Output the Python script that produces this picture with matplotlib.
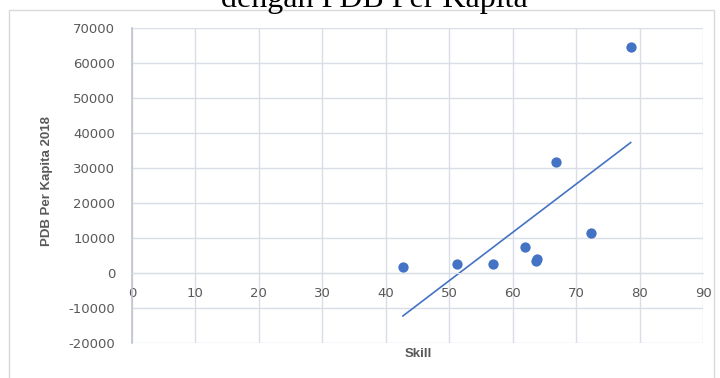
import matplotlib.pyplot as plt
import numpy as np
from matplotlib.patches import Rectangle

# Skill score vs GDP per capita 2018
skill = [42.7, 51.2, 56.9, 62.0, 63.6, 63.9, 66.8, 72.4, 78.6]
pdb   = [1700, 2600, 2600, 7400, 3400, 4000, 31700, 11400, 64600]

x_ticks = list(range(0, 91, 10))
y_ticks = list(range(-20000, 70001, 10000))

BLUE  = "#4472c4"
GRID  = "#d9dde6"
TEXT  = "#595959"
W, H  = 720, 378

plt.rcParams["font.family"] = ["DejaVu Sans"]
plt.rcParams["axes.unicode_minus"] = False

fig = plt.figure(figsize=(W / 100, H / 100), dpi=100)
ax = fig.add_axes([132 / W, 1 - 343 / H, (703 - 132) / W, (343 - 28) / H])

# outer chart frame
fig.patches.append(Rectangle((9 / W, -0.1), (714 - 9) / W, 1.1 - 10 / H,
                             transform=fig.transFigure, fill=False,
                             edgecolor="#d9d9d9", linewidth=1.0))

ax.scatter(skill, pdb, s=55, color=BLUE, zorder=3, linewidths=0)

# linear trend over the data range
coef = np.polyfit(skill, pdb, 1)
xs = np.array([min(skill), max(skill)])
ax.plot(xs, np.polyval(coef, xs), color=BLUE, linewidth=1.2, zorder=2)

ax.set_xlim(0, 90)
ax.set_ylim(-20000, 70000)
ax.set_xticks(x_ticks)
ax.set_yticks(y_ticks)
ax.grid(True, color=GRID, linewidth=1.0, zorder=0)
ax.set_axisbelow(True)

for side in ("top", "right"):
    ax.spines[side].set_visible(False)
ax.spines["bottom"].set_position(("data", 0))
ax.spines["bottom"].set_color(GRID)
ax.spines["left"].set_color("#bfc3cc")
ax.spines["left"].set_linewidth(1.2)

ax.tick_params(axis="both", length=0, labelsize=9.5, labelcolor=TEXT)
ax.tick_params(axis="y", pad=12)
ax.tick_params(axis="x", pad=10)

label_font = ["Liberation Sans", "DejaVu Sans"]
fig.text(418 / W, 1 - 354 / H, "Skill", ha="center", va="center",
         fontsize=9.5, fontweight="bold", color=TEXT, family=label_font)
fig.text(47 / W, 1 - 181 / H, "PDB Per Kapita 2018", ha="center", va="center",
         rotation=90, fontsize=9.5, fontweight="bold", color=TEXT, family=label_font)

fig.text(374 / W, 1 - 7 / H, "dengan PDB Per Kapita", ha="center",
         va="baseline", fontsize=23, family=["Liberation Serif", "DejaVu Serif"],
         color="black")

fig.savefig("out.png", dpi=100)
